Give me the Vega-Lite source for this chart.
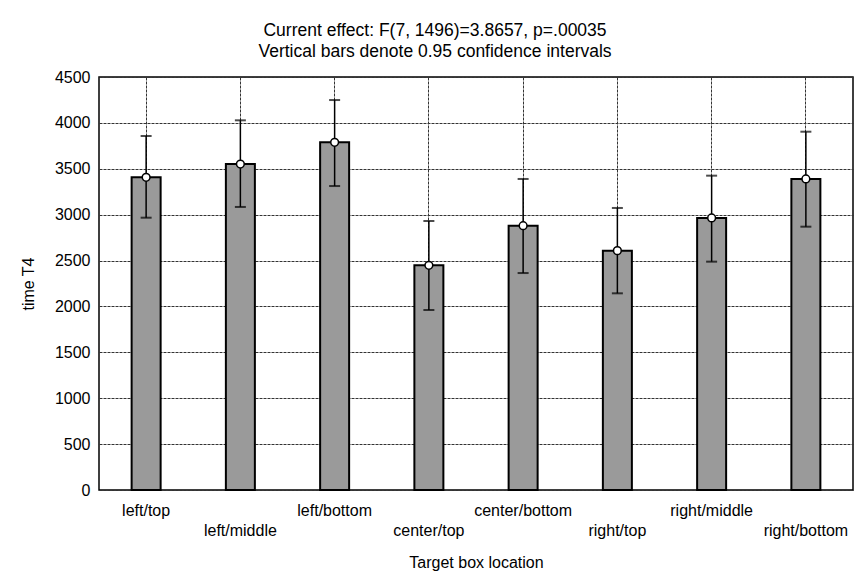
{
  "$schema": "https://vega.github.io/schema/vega-lite/v6.json",
  "width": 754,
  "height": 413,
  "autosize": {"type": "none"},
  "padding": {"left": 99, "top": 77, "right": 7, "bottom": 88},
  "background": "white",
  "title": {
    "text": ["Current effect: F(7, 1496)=3.8657, p=.00035", "Vertical bars denote 0.95 confidence intervals"],
    "font": "Liberation Sans",
    "fontSize": 17.5,
    "fontWeight": "normal",
    "lineHeight": 21,
    "anchor": "middle",
    "dx": -41,
    "offset": 9,
    "color": "black"
  },
  "config": {
    "view": {"stroke": "black", "strokeWidth": 1.5},
    "axis": {
      "labelFont": "Liberation Sans",
      "titleFont": "Liberation Sans",
      "labelFontSize": 16,
      "titleFontSize": 16,
      "titleFontWeight": "normal",
      "labelColor": "black",
      "titleColor": "black",
      "domain": false,
      "ticks": false,
      "gridColor": "#333333",
      "gridWidth": 1,
      "gridDash": [3, 1],
      "gridOpacity": 1
    }
  },
  "data": {
    "values": [
      {"location": "left/top", "mean": 3407, "lo": 2967, "hi": 3857},
      {"location": "left/middle", "mean": 3552, "lo": 3084, "hi": 4028},
      {"location": "left/bottom", "mean": 3788, "lo": 3312, "hi": 4249},
      {"location": "center/top", "mean": 2448, "lo": 1961, "hi": 2931},
      {"location": "center/bottom", "mean": 2880, "lo": 2364, "hi": 3389},
      {"location": "right/top", "mean": 2608, "lo": 2143, "hi": 3073},
      {"location": "right/middle", "mean": 2964, "lo": 2488, "hi": 3425},
      {"location": "right/bottom", "mean": 3389, "lo": 2869, "hi": 3904}
    ]
  },
  "encoding": {
    "x": {
      "field": "location",
      "type": "nominal",
      "sort": null,
      "scale": {"paddingInner": 0, "paddingOuter": 0},
      "axis": {
        "title": "Target box location",
        "labelAngle": 0,
        "labelBaseline": "middle",
        "labelPadding": {
          "condition": {"test": "indexof(['left/middle','center/top','right/top','right/bottom'], datum.value) >= 0", "value": 40},
          "value": 20
        },
        "titlePadding": 16,
        "grid": true,
        "bandPosition": 0.5
      }
    }
  },
  "layer": [
    {
      "mark": {"type": "bar", "size": 29, "fill": "#9a9a9a", "stroke": "black", "strokeWidth": 2},
      "encoding": {
        "y": {
          "field": "mean",
          "type": "quantitative",
          "scale": {"domain": [0, 4500], "nice": false},
          "axis": {"title": "time T4", "format": "d", "values": [0, 500, 1000, 1500, 2000, 2500, 3000, 3500, 4000, 4500], "labelPadding": 9, "titlePadding": 18, "grid": true}
        }
      }
    },
    {
      "mark": {"type": "rule", "color": "black", "strokeWidth": 1.5},
      "encoding": {
        "y": {"field": "lo", "type": "quantitative"},
        "y2": {"field": "hi"}
      }
    },
    {
      "mark": {"type": "tick", "color": "black", "size": 11, "thickness": 2, "orient": "horizontal"},
      "encoding": {"y": {"field": "lo", "type": "quantitative"}}
    },
    {
      "mark": {"type": "tick", "color": "black", "size": 11, "thickness": 2, "orient": "horizontal"},
      "encoding": {"y": {"field": "hi", "type": "quantitative"}}
    },
    {
      "mark": {"type": "point", "filled": true, "fill": "white", "stroke": "black", "strokeWidth": 1.5, "size": 60, "opacity": 1},
      "encoding": {"y": {"field": "mean", "type": "quantitative"}}
    }
  ]
}
